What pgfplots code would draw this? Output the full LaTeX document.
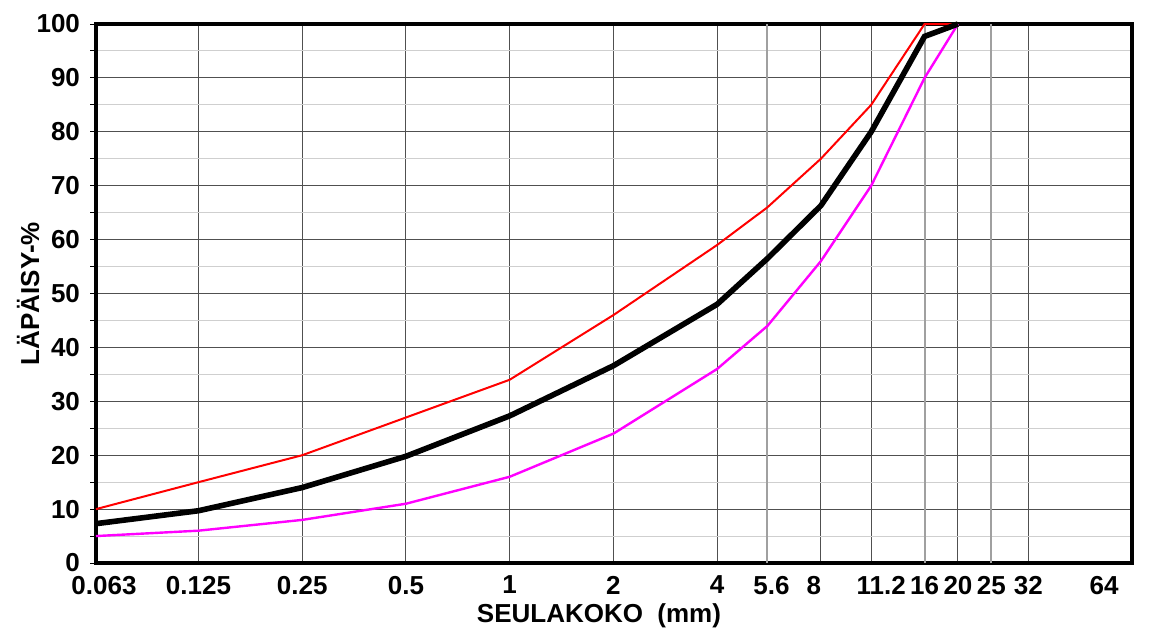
\documentclass[border=0pt]{standalone}
\usepackage{fontspec}
\setmainfont{Liberation Sans}
\usepackage{pgfplots}
\pgfplotsset{compat=1.18}
\definecolor{gmaj}{HTML}{505050}
\definecolor{gmin}{HTML}{CFCFCF}
\definecolor{gmid}{HTML}{A0A0A0}
\definecolor{cred}{HTML}{FF0000}
\definecolor{cmag}{HTML}{FF00FF}
\begin{document}
\begin{tikzpicture}
\begin{axis}[
  scale only axis, width=518pt, height=269.5pt,
  xmode=log, log basis x=2,
  xmin=0.063, xmax=64, ymin=0, ymax=100,
  clip=false,
  xtick={0.063,0.125,0.25,0.5,1,2,4,8,11.2,20,32,64},
  xticklabels={\hspace*{8pt}0.063,0.125,0.25,0.5,1,2,4,8\hspace*{7pt},\hspace*{10pt}11.2,20,32,64\hspace*{28pt}},
  extra x ticks={5.6,16,25},
  extra x tick labels={\hspace*{4pt}5.6,16,25},
  extra x tick style={grid=major, major grid style={draw=gmid, line width=1pt}, xtick style={draw=none}},
  xtick style={draw=none},
  ytick={0,10,...,100},
  minor y tick num=1,
  ytick pos=left,
  tick align=outside,
  major tick length=3pt, minor tick length=3pt,
  ytick style={black, line width=0.5pt},
  minor y tick style={black, line width=0.5pt},
  xmajorgrids, ymajorgrids, yminorgrids,
  major grid style={draw=gmaj, line width=0.5pt},
  minor grid style={draw=gmin, line width=0.5pt},
  axis line style={line width=2pt},
  /pgf/number format/assume math mode=true,
  ticklabel style={font=\fontsize{13}{15}\selectfont\bfseries},
  yticklabel style={xshift=-1.5pt},
  label style={font=\fontsize{13}{15}\selectfont\bfseries},
  xlabel={SEULAKOKO~~(mm)},
  ylabel={LÄPÄISY-\%},
  xlabel style={at={(axis description cs:0.4855,-0.1095)}, anchor=base},
  ylabel style={at={(axis description cs:-0.0656,0.5)}, anchor=center},
]
\addplot[draw=cred, line width=1pt] coordinates {
 (0.063,10) (0.125,15) (0.25,20) (0.5,27) (1,34) (2,46) (4,59) (5.6,66) (8,75) (11.2,85) (16,100) (20,100)};
\addplot[draw=cmag, line width=1.2pt] coordinates {
 (0.063,5) (0.125,6) (0.25,8) (0.5,11) (1,16) (2,24) (4,36) (5.6,44) (8,56) (11.2,70) (16,90) (20,100)};
\addplot[draw=black, line width=2.8pt] coordinates {
 (0.063,7.3) (0.125,9.7) (0.25,14) (0.5,19.8) (1,27.3) (2,36.6) (4,48) (5.6,56.5) (8,66.3) (11.2,80) (16,97.7) (20,100)};
\end{axis}
\pgfresetboundingbox
\path[use as bounding box] ([xshift=-48pt,yshift=-32.5pt]current axis.south west) rectangle ([xshift=10pt,yshift=12pt]current axis.north east);
\end{tikzpicture}
\end{document}
